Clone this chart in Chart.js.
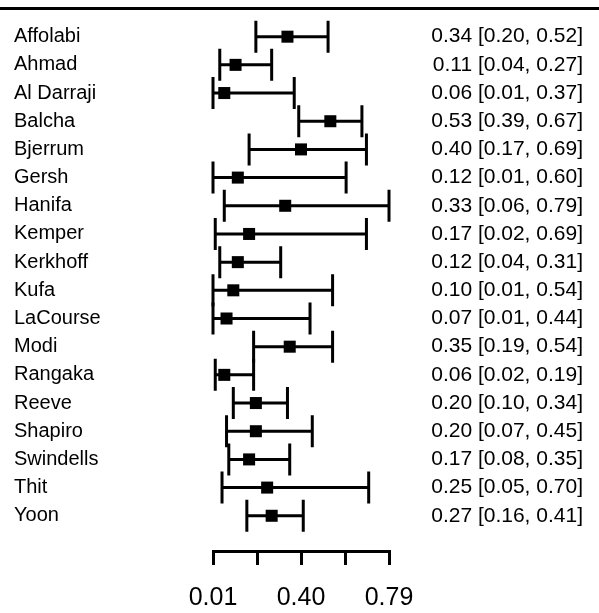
<!DOCTYPE html>
<html>
<head>
<meta charset="utf-8">
<script src="https://cdn.jsdelivr.net/npm/chart.js@4.4.1/dist/chart.umd.min.js"></script>
<style>
  html, body { margin: 0; padding: 0; background: #fff; }
  canvas { display: block; }
</style>
</head>
<body>
<canvas id="forest" width="599" height="613"></canvas>
<script>
const studies = ['Affolabi', 'Ahmad', 'Al Darraji', 'Balcha', 'Bjerrum', 'Gersh', 'Hanifa', 'Kemper', 'Kerkhoff',
  'Kufa', 'LaCourse', 'Modi', 'Rangaka', 'Reeve', 'Shapiro', 'Swindells', 'Thit', 'Yoon'];
const estimates = [0.34, 0.11, 0.06, 0.53, 0.40, 0.12, 0.33, 0.17, 0.12, 0.10, 0.07, 0.35, 0.06, 0.20, 0.20, 0.17, 0.25, 0.27];
const lower = [0.20, 0.04, 0.01, 0.39, 0.17, 0.01, 0.06, 0.02, 0.04, 0.01, 0.01, 0.19, 0.02, 0.10, 0.07, 0.08, 0.05, 0.16];
const upper = [0.52, 0.27, 0.37, 0.67, 0.69, 0.60, 0.79, 0.69, 0.31, 0.54, 0.44, 0.54, 0.19, 0.34, 0.45, 0.35, 0.70, 0.41];
const xTicks = [0.01, 0.205, 0.40, 0.595, 0.79];
const xTickLabels = ['0.01', '', '0.40', '', '0.79'];

const rows = studies.map((_, i) => i + 1);
const ciLabels = estimates.map((e, i) => `${e.toFixed(2)} [${lower[i].toFixed(2)}, ${upper[i].toFixed(2)}]`);

Chart.defaults.font.family = "'Liberation Sans', Arial, sans-serif";
Chart.defaults.color = '#000';

// whiskers, caps and the rule across the top
const ciBars = {
  id: 'ciBars',
  beforeDatasetsDraw(chart) {
    const { ctx, scales: { x, y } } = chart;
    ctx.save();
    ctx.strokeStyle = '#000';
    ctx.lineWidth = 3;
    rows.forEach((r, i) => {
      const py = y.getPixelForValue(r);
      const x0 = x.getPixelForValue(lower[i]);
      const x1 = x.getPixelForValue(upper[i]);
      ctx.beginPath();
      ctx.moveTo(x0, py);
      ctx.lineTo(x1, py);
      ctx.moveTo(x0, py - 16);
      ctx.lineTo(x0, py + 16);
      ctx.moveTo(x1, py - 16);
      ctx.lineTo(x1, py + 16);
      ctx.stroke();
    });
    const top = y.getPixelForValue(0);
    ctx.beginPath();
    ctx.moveTo(0, top);
    ctx.lineTo(chart.width, top);
    ctx.stroke();
    ctx.restore();
  }
};

const rowAxis = (position, labels, size, width) => ({
  type: 'linear',
  position,
  reverse: true,
  min: 0,
  max: 19.25,
  afterBuildTicks: scale => { scale.ticks = rows.map(v => ({ value: v })); },
  afterFit: scale => {
    scale.width = width;
    scale.paddingTop = 0;
    scale.paddingBottom = 0;
  },
  ticks: {
    autoSkip: false,
    crossAlign: 'far',
    font: { size },
    color: '#000',
    callback: (v, i) => labels[i]
  },
  grid: { display: false },
  border: { display: false }
});

new Chart(document.getElementById('forest'), {
  type: 'scatter',
  data: {
    datasets: [{
      data: rows.map((r, i) => ({ x: estimates[i], y: r })),
      pointStyle: 'rect',
      pointRadius: 8.5,
      pointHoverRadius: 8.5,
      borderWidth: 0,
      backgroundColor: '#000',
      clip: false
    }]
  },
  plugins: [ciBars],
  options: {
    responsive: false,
    devicePixelRatio: 1,
    animation: false,
    layout: { padding: { left: 14, right: 16, top: 7, bottom: 0 } },
    plugins: { legend: { display: false }, tooltip: { enabled: false } },
    scales: {
      x: {
        type: 'linear',
        position: 'bottom',
        min: 0.01,
        max: 0.79,
        afterBuildTicks: scale => { scale.ticks = xTicks.map(v => ({ value: v })); },
        afterFit: scale => { scale.height = 62; },
        ticks: {
          autoSkip: false,
          maxRotation: 0,
          padding: 18,
          font: { size: 25 },
          color: '#000',
          callback: (v, i) => xTickLabels[i]
        },
        grid: { drawOnChartArea: false, drawTicks: true, tickLength: 14, lineWidth: 3, color: '#000' },
        border: { display: true, width: 3, color: '#000' }
      },
      y: rowAxis('left', studies, 20, 199),
      y2: rowAxis('right', ciLabels, 21, 194)
    }
  }
});
</script>
</body>
</html>
